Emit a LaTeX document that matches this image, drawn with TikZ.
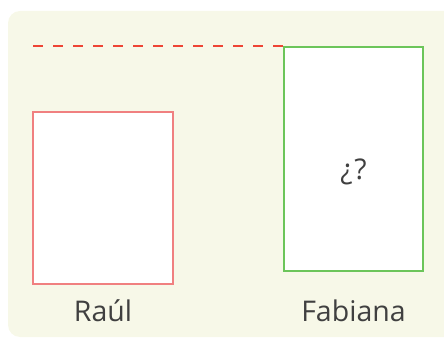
\documentclass[tikz,border=0pt]{standalone}
\usepackage{fontspec}
\setmainfont{Open Sans}
\usetikzlibrary{positioning}
\definecolor{bgpaper}{HTML}{F7F8E8}
\definecolor{pinkline}{HTML}{F08080}
\definecolor{greenline}{HTML}{6CC55A}
\definecolor{dashred}{HTML}{EE4535}
\definecolor{textgray}{HTML}{404040}
\begin{document}
\begin{tikzpicture}[x=1pt, y=-1pt,
		namelabel/.style={font=\fontsize{28.5}{34}\selectfont, text=textgray, inner sep=0pt, anchor=base},
		rectbox/.style={fill=white, line width=1.6pt}]
		\useasboundingbox (0,0) rectangle (444,339);
		\fill[bgpaper, rounded corners=12pt] (8,11) rectangle (460,337);
		% the two rectangles
		\draw[rectbox, draw=pinkline] (33,112) rectangle (173,284);
		\draw[rectbox, draw=greenline] (284,47) rectangle (423,271);
		\coordinate (lineL) at (33,46.5);
		\coordinate (lineR) at (284,46.5);
		\draw[dashred, line width=2pt, dash pattern=on 10pt off 10pt] (lineL) -- (lineR);
		\node (q) at (353.5,172) [font=\fontsize{28.5}{34}\selectfont, text=textgray, inner sep=0pt] {¿\kern2pt?};
		\node (raul) at (103,321) [namelabel] {Raúl};
		\node (fabiana) at (353.5,321) [namelabel] {Fabiana};
	\end{tikzpicture}
\end{document}
